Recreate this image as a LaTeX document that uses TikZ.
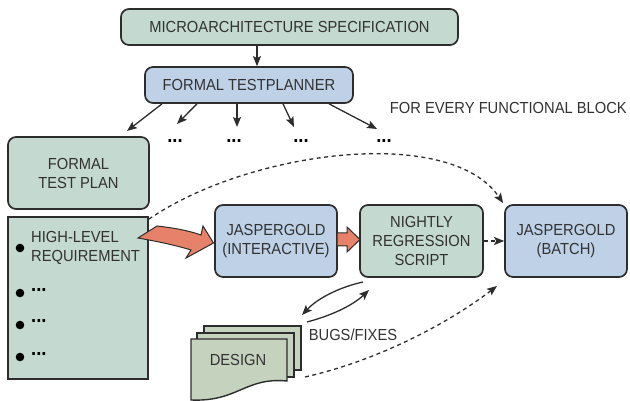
\documentclass[tikz,border=0pt]{standalone}
\usepackage{fontspec}
\setmainfont{Liberation Sans}[FakeStretch=0.92]
\usetikzlibrary{arrows.meta}
\definecolor{gfill}{RGB}{196,217,208}
\definecolor{bfill}{RGB}{190,209,230}
\definecolor{dfill}{RGB}{197,210,190}
\definecolor{ofill}{RGB}{230,130,105}
\definecolor{edge}{RGB}{45,45,45}
\definecolor{txt}{RGB}{50,50,50}
\tikzset{
  box/.style={draw=edge, line width=1.7pt, rounded corners=8pt, inner sep=0pt, align=center, text=txt},
  gbox/.style={box, fill=gfill},
  bbox/.style={box, fill=bfill},
  lbl/.style={inner sep=0pt, text=txt},
  conn/.style={draw=edge, line width=1.3pt, -{Stealth[length=10pt,width=8pt,inset=2pt]}},
  dconn/.style={conn, dash pattern=on 4pt off 3.5pt},
  fat/.style={fill=ofill, draw=edge, line width=1pt, line join=miter},
  sheet/.style={fill=dfill, draw=edge, line width=1.4pt},
  dotn/.style={inner sep=0pt, text=black, font=\fontsize{20}{20}\selectfont\bfseries}
}
\begin{document}
\begin{tikzpicture}[x=1pt, y=-1pt, font=\fontsize{16}{19}\selectfont]
\useasboundingbox (0,0) rectangle (630,401);

% boxes
\node[gbox, minimum width=337pt, minimum height=36pt] (spec) at (289.5,27) {MICROARCHITECTURE SPECIFICATION};
\node[bbox, minimum width=208pt, minimum height=36pt] (planner) at (249,85) {FORMAL TESTPLANNER};
\node[gbox, minimum width=141pt, minimum height=72pt] (plan) at (78.5,173) {FORMAL\\TEST PLAN};
\node[gbox, rounded corners=0pt, minimum width=140pt, minimum height=162pt] (req) at (78,298) {};
\node[bbox, minimum width=122pt, minimum height=72pt] (inter) at (276,241) {JASPERGOLD\\(INTERACTIVE)};
\node[gbox, minimum width=123pt, minimum height=72pt] (nightly) at (421.5,241) {NIGHTLY\\REGRESSION\\SCRIPT};
\node[bbox, minimum width=122pt, minimum height=72pt] (batch) at (566,241) {JASPERGOLD\\(BATCH)};

% requirement list
\node[lbl, anchor=west, align=left] (hl) at (31,248) {HIGH-LEVEL\\REQUIREMENT};
\fill[black] (20,248) circle (4.3pt);
\fill[black] (20,293) circle (4.3pt);
\fill[black] (20,325) circle (4.3pt);
\fill[black] (20,357) circle (4.3pt);
\node[dotn, anchor=west] (d1) at (31,290) {...};
\node[dotn, anchor=west] (d2) at (31,321) {...};
\node[dotn, anchor=west] (d3) at (31,354) {...};

% fan-out from planner
\draw[conn] ([xshift=-32.5pt]spec.south) -- ([xshift=8pt]planner.north);
\coordinate (e1) at (127,131);
\coordinate (e2) at (177,124);
\coordinate (e3) at (237,127);
\coordinate (e4) at (294,127);
\coordinate (e5) at (377,129);
\draw[conn] ([xshift=-87pt]planner.south) -- (e1);
\draw[conn] ([xshift=-52pt]planner.south) -- (e2);
\draw[conn] ([xshift=-12pt]planner.south) -- (e3);
\draw[conn] ([xshift=34pt]planner.south) -- (e4);
\draw[conn] ([xshift=80pt]planner.south) -- (e5);
\node[dotn] (p1) at (175,141) {...};
\node[dotn] (p2) at (234,141) {...};
\node[dotn] (p3) at (301,141) {...};
\node[dotn] (p4) at (384,141) {...};
\node[lbl, anchor=east] (every) at (627,107.5) {FOR EVERY FUNCTIONAL BLOCK};

% orange fat arrows
\draw[fat] (138,238) -- (157,226) .. controls (175,228) and (190,231) .. (201,235)
  -- (203,226) -- (213.5,243) -- (186,258) -- (191,250)
  .. controls (175,245) and (155,241) .. cycle;
\draw[fat] (337,233) -- (347,233) -- (347,227) -- (360,239.5) -- (347,252) -- (347,246) -- (337,246) -- cycle;

% dashed connectors
\draw[dconn] ([yshift=-3pt]req.north east) .. controls (250,150) and (450,125) .. ([xshift=-1pt,yshift=1pt]batch.north west);
\draw[dconn] (nightly.east) -- (batch.west);

% design stack
\draw[sheet] (204,326) rectangle (301,370);
\draw[sheet] (197,333) rectangle (294,377);
\draw[sheet] (191,339) -- (287,339) -- (287,381) .. controls (245,377) and (238,402) .. (191,400) -- cycle;
\node[lbl] (design) at (238,360) {DESIGN};

\coordinate (ds) at (305,377);
\coordinate (bt) at (497,286);
\draw[dconn] (ds) .. controls (380,360) and (450,322) .. (bt);

% bugs/fixes
\coordinate (n1) at (363,282);
\coordinate (g1) at (302,315);
\coordinate (g2) at (307,322);
\coordinate (n2) at (369,290);
\draw[conn] (n1) .. controls (340,287) and (318,298) .. (g1);
\draw[conn] (g2) .. controls (330,316) and (352,306) .. (n2);
\node[lbl] (bugs) at (353,335) {BUGS/FIXES};
\end{tikzpicture}
\end{document}
